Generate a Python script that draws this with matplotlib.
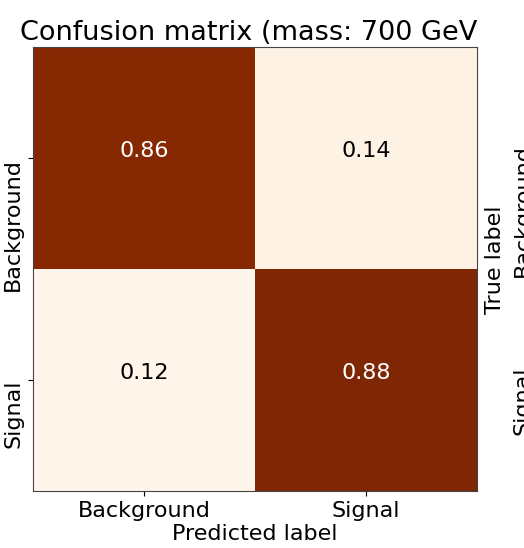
import numpy as np
import matplotlib.pyplot as plt
from matplotlib.transforms import Bbox

classes = ["Background", "Signal"]
cm = np.array([[0.86, 0.14],
               [0.12, 0.88]])
title = "Confusion matrix (mass: 700 GeV)"

fig = plt.figure(figsize=(5.24, 5.48), dpi=100)
ax = fig.add_axes([33 / 524, 57 / 548, 444 / 524, 444 / 548])

ax.imshow(cm, cmap="Oranges", interpolation="nearest", aspect="auto")
t = ax.set_title(title, fontsize=19.5, loc="left", x=-0.03, pad=5)
# title is cut off at the right in the original
t.set_clip_box(Bbox.from_extents(0, 0, 479, 548))
t.set_clip_on(True)

ticks = np.arange(len(classes))
ax.set_xticks(ticks)
ax.set_xticklabels(classes, fontsize=16)
ax.set_yticks(ticks)
ax.set_yticklabels(classes, fontsize=16, rotation=90, rotation_mode="anchor",
                   ha="right", va="bottom")
ax.set_xlabel("Predicted label", fontsize=16, labelpad=2)

thresh = cm.max() / 2.0
for i in range(cm.shape[0]):
    for j in range(cm.shape[1]):
        ax.text(j, i - 0.03, "%.2f" % cm[i, j], ha="center", va="center",
                fontsize=16,
                color="white" if cm[i, j] > thresh else "black")

# labels on the right edge (cut off by the figure, as in the original)
ax.text(1.0405, 0.52, "True label", transform=ax.transAxes, rotation=90,
        ha="center", va="center", fontsize=16, clip_on=False)
for k, name in enumerate(classes):
    ax.text(1.081, 1 - (k + 0.5) / len(classes) + 0.031, name,
            transform=ax.transAxes, rotation=90, rotation_mode="anchor",
            ha="right", va="top", fontsize=16, clip_on=False)

for s in ax.spines.values():
    s.set_color("#444444")

plt.savefig("out.png", dpi=100)
